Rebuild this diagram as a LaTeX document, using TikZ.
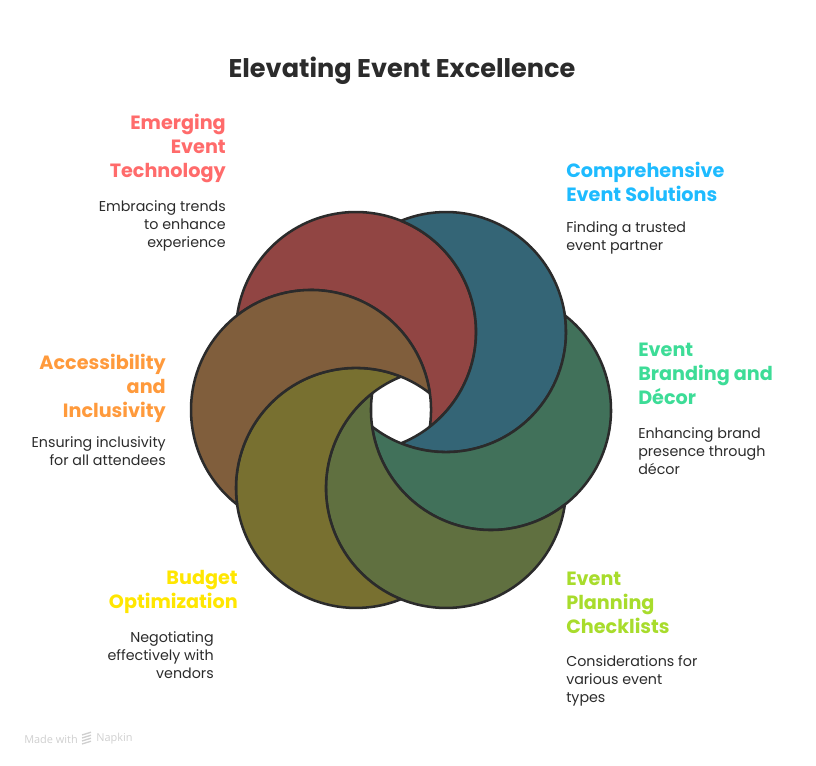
\documentclass[tikz,border=0pt]{standalone}
\usepackage{fontspec}
\setmainfont{Poppins}
\newfontfamily\footfont{Open Sans}

\definecolor{redtone}{HTML}{914543}
\definecolor{bluetone}{HTML}{346576}
\definecolor{greentone}{HTML}{41715A}
\definecolor{limetone}{HTML}{607040}
\definecolor{yellowtone}{HTML}{787030}
\definecolor{browntone}{HTML}{805E3C}
\definecolor{redhead}{HTML}{FF6B6B}
\definecolor{bluehead}{HTML}{1EBBFF}
\definecolor{greenhead}{HTML}{3DDC97}
\definecolor{limehead}{HTML}{A8DC2C}
\definecolor{yellowhead}{HTML}{FFE600}
\definecolor{orangehead}{HTML}{FF9A3C}
\definecolor{inkline}{HTML}{2B2B2B}

\begin{document}
\begin{tikzpicture}[x=0.75pt,y=0.75pt]
\tikzstyle{petal}=[draw=inkline, line width=1.9pt, line join=round]
\tikzstyle{title}=[inner sep=0pt, text=inkline, font=\fontsize{19.2}{22}\selectfont\bfseries]
\tikzstyle{head}=[inner sep=0pt, font=\fontsize{14.4}{18}\selectfont\bfseries]
\tikzstyle{body}=[inner sep=0pt, text=inkline, font=\fontsize{10.7}{13.5}\selectfont]
\tikzstyle{foot}=[inner sep=0pt, anchor=west, text=black!19, font=\footfont\fontsize{8.2}{10}\selectfont]

\useasboundingbox (0,0) rectangle (816,766);
\coordinate (hub) at (401,356);

\foreach \ang/\tone in {120/redtone,60/bluetone,0/greentone,-60/limetone,-120/yellowtone,180/browntone}
  \filldraw[petal, fill=\tone] (hub) ++({\ang+30}:189.18)
    arc[start angle=\ang+52.03, end angle=\ang-172.02, radius=120]
    arc[start angle=\ang-127.98, end angle=\ang+7.97, radius=120] -- cycle;

\node[title] (T) at (402,695.5) {Elevating Event Excellence};

\node[head, text=redhead, anchor=north east, align=right] (Emerge) at (226,652.5) {Emerging\\Event\\Technology};
\node[body, anchor=north east, align=right] (EmergeText) at (226,566) {Embracing trends\\to enhance\\experience};
\node[head, text=bluehead, anchor=north west, align=left] (Solution) at (566,604.5) {Comprehensive\\Event Solutions};
\node[body, anchor=north west, align=left] (SolutionText) at (566,545) {Finding a trusted\\event partner};
\node[head, text=greenhead, anchor=north west, align=left] (Brand) at (638,423.5) {Event\\Branding and\\Décor};
\node[body, anchor=north west, align=left] (BrandText) at (638,339) {Enhancing brand\\presence through\\décor};
\node[head, text=limehead, anchor=north west, align=left] (Check) at (566,194.5) {Event\\Planning\\Checklists};
\node[body, anchor=north west, align=left] (CheckText) at (566,111) {Considerations for\\various event\\types};
\node[head, text=yellowhead, anchor=north east, align=right] (Budget) at (238,195.5) {Budget\\Optimization};
\node[body, anchor=north east, align=right] (BudgetText) at (214,135) {Negotiating\\effectively with\\vendors};
\node[head, text=orangehead, anchor=north east, align=right] (Access) at (166,412.5) {Accessibility\\and\\Inclusivity};
\node[body, anchor=north east, align=right] (AccessText) at (166,330) {Ensuring inclusivity\\for all attendees};

\node[foot] (Made) at (24,27) {Made with};
\node[foot] (Napkin) at (96,27) {Napkin};
\coordinate (logo) at (87,28);
\foreach \dy in {-6,-3,0,3}
  \draw[black!19, line width=1pt] (logo) ++(-5,\dy) -- ++(9,2.8);
\end{tikzpicture}
\end{document}
